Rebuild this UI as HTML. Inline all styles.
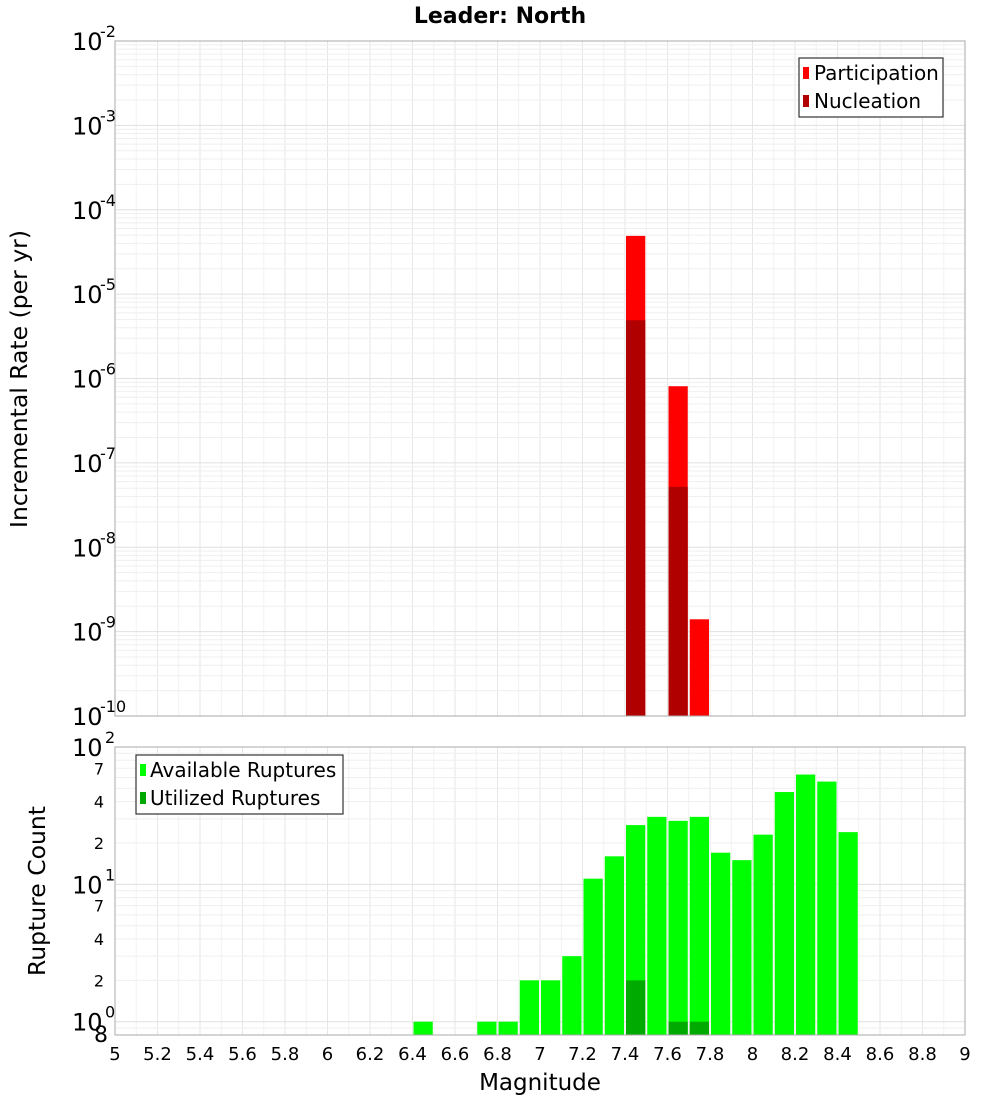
<!DOCTYPE html>
<html><head><meta charset="utf-8"><style>
body{margin:0;background:#fff}
svg text{font-family:"DejaVu Sans","Liberation Sans",sans-serif;fill:#000}
</style></head><body>
<svg id="c" width="1000" height="1100" xmlns="http://www.w3.org/2000/svg">
<text x="500" y="23" text-anchor="middle" font-size="22" font-weight="bold">Leader: North</text>
<text transform="translate(27,379) rotate(-90)" text-anchor="middle" font-size="23.5">Incremental Rate (per yr)</text>
<text transform="translate(45,891) rotate(-90)" text-anchor="middle" font-size="23.5">Rupture Count</text>
<text x="540" y="1090" text-anchor="middle" font-size="23">Magnitude</text>
<g id="gtop"></g><g id="gbot"></g>
<g>
<rect x="799" y="58" width="144" height="59" fill="#fff" stroke="#333" stroke-width="1.2"/>
<rect x="803" y="67" width="6" height="12" fill="#ff0000"/>
<text x="814" y="80" font-size="20">Participation</text>
<rect x="803" y="95" width="6" height="12" fill="#b00000"/>
<text x="814" y="108" font-size="20">Nucleation</text>
</g>
<g>
<rect x="136" y="755" width="207" height="59" fill="#fff" stroke="#333" stroke-width="1.2"/>
<rect x="140" y="764" width="6" height="12" fill="#00ff00"/>
<text x="150" y="777" font-size="20">Available Ruptures</text>
<rect x="140" y="792" width="6" height="12" fill="#00a800"/>
<text x="150" y="805" font-size="20">Utilized Ruptures</text>
</g>
</svg>
<script>
const partBins=[7.4,7.6,7.7];
const partVals=[4.9e-5,8.1e-7,1.4e-9];
const nuclBins=[7.4,7.6];
const nuclVals=[4.9e-6,5.2e-8];
const availBins=[6.4,6.7,6.8,6.9,7.0,7.1,7.2,7.3,7.4,7.5,7.6,7.7,7.8,7.9,8.0,8.1,8.2,8.3,8.4];
const availVals=[1,1,1,2,2,3,11,16,27,31,29,31,17,15,23,47,63,56,24];
const utilBins=[7.4,7.6,7.7];
const utilVals=[2,1,1];
const xTicks=["5","5.2","5.4","5.6","5.8","6","6.2","6.4","6.6","6.8","7","7.2","7.4","7.6","7.8","8","8.2","8.4","8.6","8.8","9"];
const topExps=[-10,-9,-8,-7,-6,-5,-4,-3,-2];
const botExps=[0,1,2];
const NS="http://www.w3.org/2000/svg";
const L=115,R=965;
const X=m=>L+(m-5)*(R-L)/4;
const T0=41,T1=716,B0=747,B1=1035;
const Yt=v=>T0+(-2-Math.log10(v))*(T1-T0)/8;
const Yb=v=>B0+(2-Math.log10(v))*(B1-B0)/Math.log10(125);
function mk(p,tag,a){const e=document.createElementNS(NS,tag);for(const k in a)e.setAttribute(k,a[k]);p.appendChild(e);return e;}
const gTop=document.getElementById('gtop'),gBot=document.getElementById('gbot');
function grid(g,y0,y1,ylines){
  for(let i=0;i<=40;i++){const x=X(5+i*0.1);const l=mk(g,'line',{x1:x,x2:x,y1:y0,y2:y1,stroke:i%2?'#f2f2f2':'#e6e6e6','stroke-width':1});
  
  }
  ylines.forEach(([y,c])=>{if(y>=y0&&y<=y1){const l=mk(g,'line',{x1:L,x2:R,y1:y,y2:y,stroke:c,'stroke-width':1});
  
  }});
}
let tl=[];for(let e=-10;e<-2;e++)for(let k=1;k<10;k++)tl.push([Yt(k*Math.pow(10,e)),k==1?'#e0e0e0':'#efefef']);
grid(gTop,T0,T1,tl);
let bl=[];for(let e=-1;e<2;e++)for(let k=1;k<10;k++)bl.push([Yb(k*Math.pow(10,e)),k==1?'#e0e0e0':'#efefef']);
grid(gBot,B0,B1,bl);
const bw=(R-L)/40;
function bars(g,bins,vals,Y,base,fill,name){bins.forEach((b,i)=>{const x=X(b)+1,y=Y(vals[i]);
 const r=mk(g,'rect',{x:x,y:y,width:bw-2,height:base-y,fill:fill});
 
 });}
bars(gTop,partBins,partVals,Yt,T1,'#ff0000','participation-bar');
bars(gTop,nuclBins,nuclVals,Yt,T1,'#b00000','nucleation-bar');
bars(gBot,availBins,availVals,Yb,B1,'#00ff00','available-bar');
bars(gBot,utilBins,utilVals,Yb,B1,'#00aa00','utilized-bar');
mk(gTop,'rect',{x:L,y:T0,width:R-L,height:T1-T0,fill:'none',stroke:'#aaa'});
mk(gBot,'rect',{x:L,y:B0,width:R-L,height:B1-B0,fill:'none',stroke:'#aaa'});
topExps.forEach(e=>{const y=Yt(Math.pow(10,e));
 const t=mk(gTop,'text',{x:72,y:y+9,'font-size':24});t.textContent='10';
 
 
 const s=mk(gTop,'text',{x:100,y:y-4,'font-size':16});s.textContent=String(e);
 
 });
botExps.forEach(e=>{const y=Yb(Math.pow(10,e));
 const t=mk(gBot,'text',{x:72,y:y+9,'font-size':24});t.textContent='10';
 
 
 const s=mk(gBot,'text',{x:105,y:y-4,'font-size':16});s.textContent=String(e);
 
 
 if(e<2)[2,4,7].forEach(k=>{const m=mk(gBot,'text',{x:104,y:Yb(k*Math.pow(10,e))+6,'font-size':16,'text-anchor':'end'});m.textContent=String(k);
 
 });});
{const m=mk(gBot,'text',{x:108,y:1042,'font-size':22,'text-anchor':'end'});m.textContent='8';

}
xTicks.forEach(s=>{const t=mk(gBot,'text',{x:X(parseFloat(s)),y:1060,'font-size':18,'text-anchor':'middle'});t.textContent=s;
 
 });
</script>
</body></html>
